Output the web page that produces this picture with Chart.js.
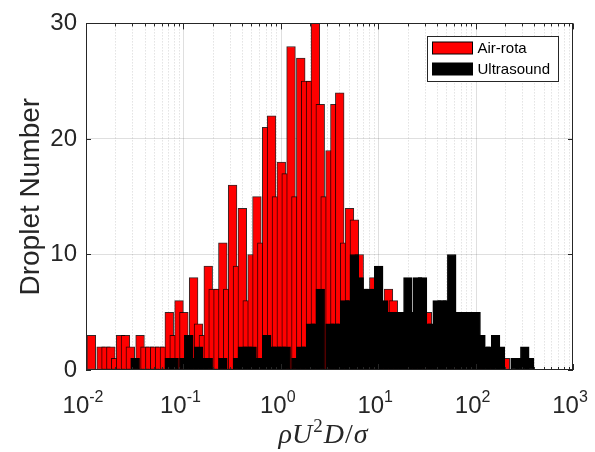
<!DOCTYPE html>
<html>
<head>
<meta charset="utf-8">
<script src="https://cdn.jsdelivr.net/npm/chart.js@4.4.1/dist/chart.umd.min.js"></script>
<style>
  html, body { margin: 0; padding: 0; background: #fff; }
  #wrap { width: 595px; height: 452px; }
</style>
</head>
<body>
<div id="wrap"><canvas id="histogram" width="595" height="452"></canvas></div>
<script>
// bins are 0.05 decade wide; log10 of the first bar centre
const binStartLog = -1.945;
const binStepLog = 0.05;

// droplet counts per bin
const airRota = [
  3, 0, 2, 2, 2, 1, 3, 3, 2, 1,
  3, 2, 2, 2, 2, 2, 5, 3, 6, 5,
  3, 8, 4, 3, 9, 7, 7, 11, 7, 16,
  9, 14, 6, 10, 15, 11, 21, 22, 15, 18,
  17, 28, 15, 27, 25, 25, 30, 23, 15, 19,
  23, 24, 11, 14, 13, 10, 7, 6, 8, 6,
  5, 7, 6, 4, 4, 4, 3, 3, 3, 5,
  2, 3, 2, 2, 2, 1, 2, 1, 1, 1,
  1, 0, 1, 0, 1, 1, 0, 0, 0, 0,
  0, 0
];
const ultrasound = [
  0, 0, 0, 0, 0, 0, 0, 0, 0, 1,
  0, 0, 0, 0, 0, 0, 1, 1, 0, 1,
  3, 1, 2, 1, 1, 0, 0, 1, 0, 0,
  1, 2, 2, 2, 1, 1, 3, 2, 2, 2,
  2, 0, 1, 2, 2, 4, 4, 7, 0, 4,
  4, 4, 6, 6, 10, 8, 7, 7, 7, 9,
  6, 5, 5, 5, 5, 8, 5, 8, 8, 4,
  4, 6, 6, 6, 10, 5, 5, 5, 5, 5,
  3, 2, 2, 3, 2, 0, 0, 1, 1, 2,
  1, 0
];

const seriesNames = ['Air-rota', 'Ultrasound'];
const seriesColors = ['#ff0000', '#000000'];
const decadeTicks = [-2, -1, 0, 1, 2, 3];
const yTicks = [0, 10, 20, 30];

const textColor = '#262626';
const sansFont = '"Liberation Sans", Arial, Helvetica, sans-serif';
const serifFont = '"Liberation Serif", "DejaVu Serif", serif';

const binCenters = airRota.map((_, k) => Math.pow(10, binStartLog + binStepLog * k));

/**
 * Grade do eixo x (décadas + linhas menores pontilhadas), caixa, ticks internos,
 * rótulos 10^n com expoente, título do eixo x e legenda dentro da área do gráfico
 */
const axesDecor = {
    id: 'axesDecor',
    beforeDatasetsDraw(chart) {
        const { ctx, chartArea: a, scales: { x } } = chart;
        ctx.save();
        ctx.lineWidth = 1;
        for (let p = decadeTicks[0]; p < decadeTicks[decadeTicks.length - 1]; p++) {
            for (let m = 1; m < 10; m++) {
                const px = Math.round(x.getPixelForValue(m * Math.pow(10, p))) + 0.5;
                if (m === 1) {
                    if (p === decadeTicks[0]) continue;
                    ctx.setLineDash([]);
                    ctx.strokeStyle = 'rgba(38,38,38,0.15)';
                } else {
                    ctx.setLineDash([1, 2]);
                    ctx.strokeStyle = 'rgba(38,38,38,0.2)';
                }
                ctx.beginPath();
                ctx.moveTo(px, a.top);
                ctx.lineTo(px, a.bottom);
                ctx.stroke();
            }
        }
        ctx.restore();
    },
    afterDraw(chart) {
        const { ctx, chartArea: a, scales: { x, y } } = chart;
        ctx.save();

        // caixa
        ctx.strokeStyle = textColor;
        ctx.lineWidth = 1;
        ctx.strokeRect(Math.round(a.left) + 0.5, Math.round(a.top) + 0.5,
            Math.round(a.right - a.left) - 1, Math.round(a.bottom - a.top) - 1);

        // ticks internos
        ctx.beginPath();
        for (let p = decadeTicks[0]; p <= decadeTicks[decadeTicks.length - 1]; p++) {
            for (let m = 1; m < 10; m++) {
                if (p === decadeTicks[decadeTicks.length - 1] && m > 1) break;
                const px = Math.round(x.getPixelForValue(m * Math.pow(10, p))) + 0.5;
                const len = m === 1 ? 6 : 3;
                ctx.moveTo(px, a.bottom);
                ctx.lineTo(px, a.bottom - len);
                ctx.moveTo(px, a.top);
                ctx.lineTo(px, a.top + len);
            }
        }
        yTicks.forEach(v => {
            const py = Math.round(y.getPixelForValue(v)) + 0.5;
            ctx.moveTo(a.left, py);
            ctx.lineTo(a.left + 5, py);
            ctx.moveTo(a.right, py);
            ctx.lineTo(a.right - 5, py);
        });
        ctx.stroke();

        // rótulos 10^n
        ctx.fillStyle = textColor;
        ctx.textBaseline = 'alphabetic';
        ctx.textAlign = 'left';
        decadeTicks.forEach(p => {
            const px = x.getPixelForValue(Math.pow(10, p));
            const exp = p < 0 ? '-' + Math.abs(p) : String(p);
            ctx.font = '24px ' + sansFont;
            const wBase = ctx.measureText('10').width;
            ctx.font = '16px ' + sansFont;
            const wExp = ctx.measureText(exp).width;
            const left = px - (wBase + wExp) / 2 - 3;
            ctx.font = '24px ' + sansFont;
            ctx.fillText('10', left, 413);
            ctx.font = '16px ' + sansFont;
            ctx.fillText(exp, left + wBase, 402);
        });

        // título do eixo x: ρU^2D/σ
        const parts = [
            { t: 'ρU', font: 'italic 28px ' + serifFont, dy: 0 },
            { t: '2', font: '19px ' + serifFont, dy: -11 },
            { t: 'D', font: 'italic 28px ' + serifFont, dy: 0 },
            { t: '/', font: '28px ' + serifFont, dy: 0 },
            { t: 'σ', font: 'italic 28px ' + serifFont, dy: 0 }
        ];
        let total = 0;
        parts.forEach(pt => { ctx.font = pt.font; pt.w = ctx.measureText(pt.t).width + 1; total += pt.w; });
        let tx = (a.left + a.right) / 2 - 6 - total / 2;
        parts.forEach(pt => {
            ctx.font = pt.font;
            ctx.fillText(pt.t, tx, 443 + pt.dy);
            tx += pt.w;
        });

        // legenda
        const boxW = 131, boxH = 45;
        const bx = Math.round(a.right - 15 - boxW) + 0.5;
        const by = Math.round(a.top + 13) + 0.5;
        ctx.fillStyle = '#fff';
        ctx.fillRect(bx, by, boxW, boxH);
        ctx.strokeStyle = textColor;
        ctx.strokeRect(bx, by, boxW, boxH);
        ctx.font = '15px ' + sansFont;
        ctx.textBaseline = 'middle';
        seriesNames.forEach((name, i) => {
            const rowY = by + 11.5 + i * 21;
            ctx.fillStyle = seriesColors[i];
            ctx.fillRect(bx + 5, rowY - 6, 40, 12);
            ctx.strokeStyle = '#000';
            ctx.strokeRect(bx + 5, rowY - 6, 40, 12);
            ctx.fillStyle = '#000';
            ctx.fillText(name, bx + 50, rowY + 0.5);
        });

        ctx.restore();
    }
};

const ctx = document.getElementById('histogram');

new Chart(ctx, {
    type: 'bar',
    data: {
        datasets: [
            {
                label: seriesNames[0],
                data: binCenters.map((v, i) => ({ x: v, y: airRota[i] })),
                backgroundColor: seriesColors[0],
                borderColor: 'rgba(20,0,0,0.85)',
                order: 1
            },
            {
                label: seriesNames[1],
                data: binCenters.map((v, i) => ({ x: v, y: ultrasound[i] })),
                backgroundColor: seriesColors[1],
                borderColor: '#000',
                order: 0
            }
        ]
    },
    options: {
        responsive: false,
        animation: false,
        events: [],
        layout: { padding: { top: 22, right: 22, left: 0, bottom: 0 } },
        datasets: {
            bar: {
                grouped: false,
                barThickness: 8.7,
                borderWidth: 1,
                borderSkipped: false
            }
        },
        scales: {
            x: {
                type: 'logarithmic',
                min: 0.01,
                max: 1000,
                ticks: { display: false },
                grid: { display: false },
                border: { display: false },
                afterFit: scale => { scale.height = 82; }
            },
            y: {
                min: 0,
                max: 30,
                ticks: {
                    stepSize: 10,
                    color: textColor,
                    padding: 9,
                    font: { family: sansFont, size: 24 }
                },
                grid: {
                    drawTicks: false,
                    lineWidth: 1,
                    color: c => (c.tick && c.tick.value > 0 && c.tick.value < 30) ? 'rgba(38,38,38,0.15)' : 'rgba(0,0,0,0)'
                },
                border: { display: false },
                title: {
                    display: true,
                    text: 'Droplet Number',
                    color: textColor,
                    font: { family: sansFont, size: 28 },
                    padding: { top: 14, bottom: 0 }
                },
                afterFit: scale => { scale.width = 86; }
            }
        },
        plugins: {
            legend: { display: false },
            tooltip: { enabled: false }
        }
    },
    plugins: [axesDecor]
});
</script>
</body>
</html>
